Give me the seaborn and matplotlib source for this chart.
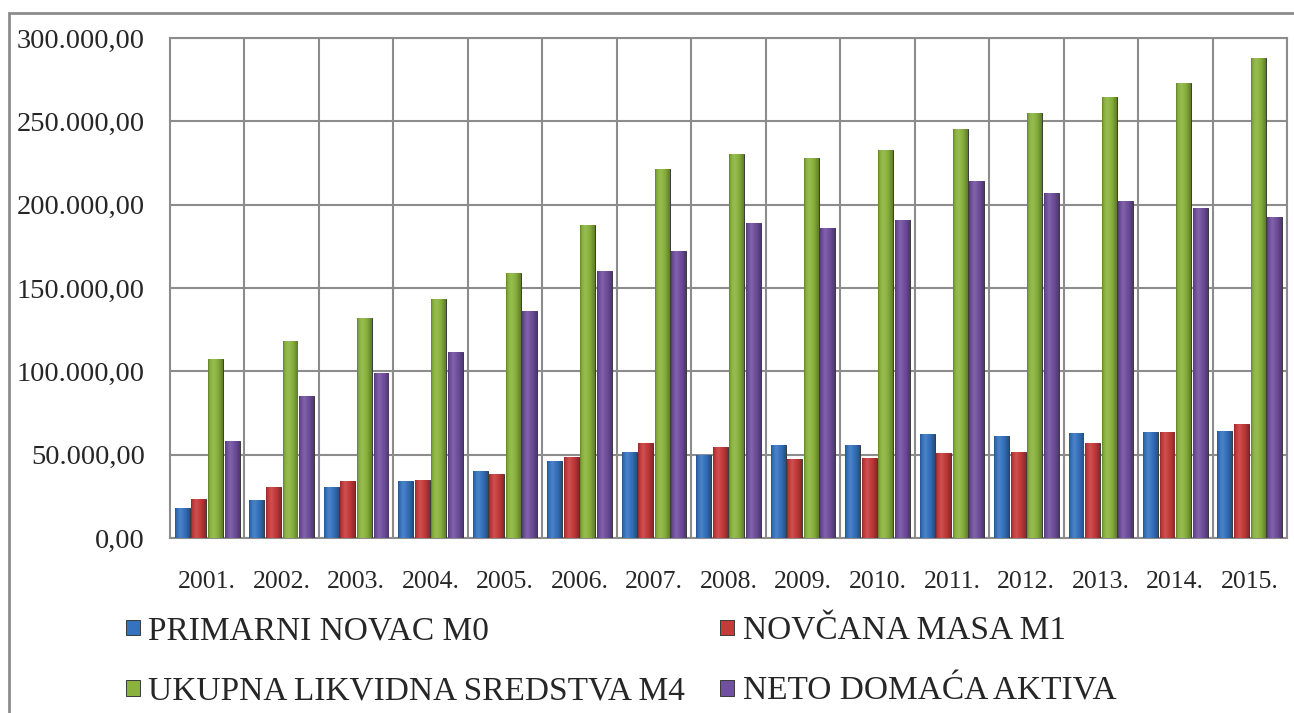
import matplotlib
matplotlib.use('Agg')
import matplotlib.pyplot as plt
from matplotlib.colors import to_rgb
from matplotlib.patches import Rectangle
from matplotlib.ticker import FuncFormatter, MultipleLocator
import numpy as np
import pandas as pd
import seaborn as sns

years = ['2001.', '2002.', '2003.', '2004.', '2005.', '2006.', '2007.', '2008.',
         '2009.', '2010.', '2011.', '2012.', '2013.', '2014.', '2015.']
m0 = [17800, 22700, 30500, 34100, 40100, 46100, 51900, 49600,
      55800, 55800, 62400, 61200, 62900, 63500, 64200]
m1 = [23600, 30500, 34100, 34800, 38400, 48700, 57300, 54900,
      47400, 47900, 51300, 51900, 57300, 63500, 68500]
m4 = [107500, 118200, 132000, 143600, 159000, 187800, 221700, 230700,
      228100, 233000, 245700, 254900, 264800, 273200, 287800]
nda = [58200, 85200, 98900, 111600, 136300, 160300, 172300, 189000,
       186000, 191000, 214200, 206900, 202400, 198100, 192700]
series = ['PRIMARNI NOVAC M0', 'NOVČANA MASA M1',
          'UKUPNA LIKVIDNA SREDSTVA M4', 'NETO DOMAĆA AKTIVA']
colors = ['#3673BE', '#C53B3B', '#8AB33E', '#71509E']

df = pd.DataFrame({'godina': years, series[0]: m0, series[1]: m1,
                   series[2]: m4, series[3]: nda})
long = df.melt(id_vars='godina', var_name='serija', value_name='iznos')

sns.set_style('white')
plt.rcParams['font.family'] = ['Liberation Serif', 'DejaVu Serif']

fig = plt.figure(figsize=(12.94, 7.13), dpi=100)
ax = fig.add_axes([170 / 1294, 1 - 538 / 713, (1287 - 170) / 1294, 500 / 713])

sns.barplot(data=long, x='godina', y='iznos', hue='serija', palette=colors,
            width=0.89, gap=0.1, ax=ax, edgecolor='#3a3a3a', linewidth=0.7,
            saturation=1, legend=True, zorder=3)

# cylinder-like shading on each bar (the original is an Excel 3D-bevel chart)
t = np.linspace(0, 1, 40)
shade = np.interp(t, [0, 0.1, 0.35, 0.7, 1], [0.72, 0.95, 1.12, 0.95, 0.7])
for p in list(ax.patches):
    if p.get_height() <= 0:
        continue
    base = np.array(to_rgb(p.get_facecolor()))
    cols = np.empty((1, len(t), 3))
    for i, s in enumerate(shade):
        cols[0, i] = base * s if s <= 1 else base + (1 - base) * (s - 1)
    im = ax.imshow(np.clip(cols, 0, 1), aspect='auto', interpolation='bilinear',
                   extent=[p.get_x(), p.get_x() + p.get_width(), 0, p.get_height()],
                   zorder=3.5)
    im.set_clip_path(p)

ax.set_ylim(0, 300000)
ax.set_xlim(-0.5, len(years) - 0.5)
ax.yaxis.set_major_locator(MultipleLocator(50000))
ax.yaxis.set_major_formatter(FuncFormatter(
    lambda v, p: f'{v:,.2f}'.replace(',', 'X').replace('.', ',').replace('X', '.')))
ax.set_xticks(np.arange(len(years)) + 0.5, minor=True)
ax.grid(True, axis='y', color='#8c8c8c', linewidth=1.5, zorder=0)
ax.grid(True, axis='x', which='minor', color='#8c8c8c', linewidth=1.5, zorder=0)
ax.grid(False, axis='x', which='major')
ax.tick_params(axis='both', which='both', length=0)
ax.tick_params(axis='y', labelsize=20.5, pad=18)
ax.tick_params(axis='x', labelsize=18.5, pad=24)
ax.set_xlabel('')
ax.set_ylabel('')
for s in ax.spines.values():
    s.set_color('#8c8c8c')
    s.set_linewidth(1.5)

handles, labels = ax.get_legend_handles_labels()
ax.get_legend().remove()
order = [0, 2, 1, 3]
leg = fig.legend([handles[i] for i in order], [labels[i] for i in order],
                 ncol=2, loc='upper left', bbox_to_anchor=(126 / 1294, 1 - 616 / 713),
                 frameon=False, fontsize=24, handlelength=0.42, handleheight=0.32,
                 handletextpad=0.25, columnspacing=1.05, labelspacing=0.9,
                 borderaxespad=0, borderpad=0)

fig.patches.append(Rectangle((9 / 1294, -0.05), 1.1, 1 - 13 / 713 + 0.05,
                             transform=fig.transFigure, fill=False,
                             edgecolor='#8c8c8c', linewidth=2, zorder=0))

fig.savefig('out.png', dpi=100)
